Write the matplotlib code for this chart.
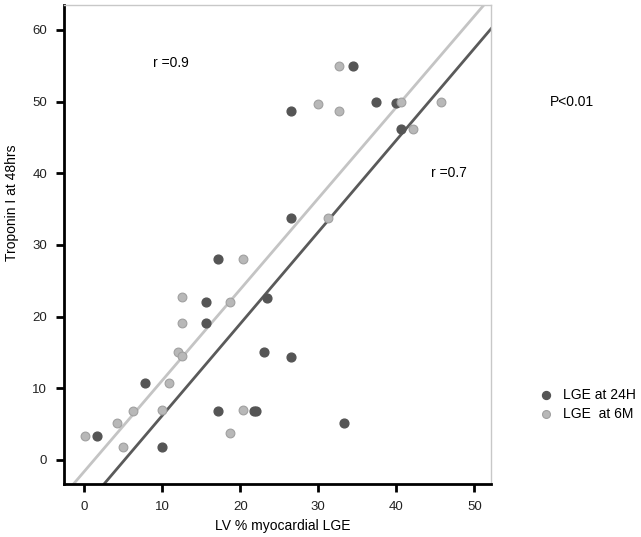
"""
Troponin I at 48hrs vs LV % myocardial LGE, two time points with fit lines.
"""
import matplotlib.pyplot as plt
import numpy as np

plt.rcParams['font.family'] = ['Liberation Sans', 'DejaVu Sans']

# LGE at 24H (dark points)
lge_24h_x = [1.6, 7.8, 10.0, 15.6, 15.6, 17.2, 17.2, 21.7, 22.0, 23.4, 23.0,
             26.5, 33.3, 26.5, 26.5, 34.4, 37.4, 39.9, 40.6]
lge_24h_y = [3.3, 10.7, 1.8, 22.0, 19.1, 6.9, 28.0, 6.9, 6.9, 22.6, 15.0,
             14.4, 5.2, 48.7, 33.7, 55.0, 50.0, 49.8, 46.1]

# LGE at 6M (light points)
lge_6m_x = [0.1, 5.0, 4.2, 6.3, 10.0, 10.9, 12.0, 12.5, 12.5, 12.5, 18.7,
            18.7, 20.3, 20.3, 29.9, 32.7, 32.7, 40.6, 45.7, 42.1, 31.2]
lge_6m_y = [3.3, 1.8, 5.2, 6.9, 7.0, 10.7, 15.1, 14.5, 19.1, 22.7, 22.1,
            3.8, 7.0, 28.0, 49.7, 55.0, 48.7, 50.0, 50.0, 46.1, 33.8]

# fitted lines: (slope, intercept)
fit_24h = (1.28, -6.6)
fit_6m = (1.27, -1.6)

x_ticks = [0, 10, 20, 30, 40, 50]
y_ticks = [0, 10, 20, 30, 40, 50, 60]

dark = '#555555'
light = '#b8b8b8'

fig = plt.figure(figsize=(6.41, 5.37), dpi=100)
ax = fig.add_axes([0.0998, 0.0987, 0.6657, 0.8925])
ax.set_xlim(-2.6, 52.1)
ax.set_ylim(-3.35, 63.5)

xx = np.array([-5, 60])
ax.plot(xx, fit_6m[0] * xx + fit_6m[1], color='#c4c4c4', lw=2, zorder=1)
ax.plot(xx, fit_24h[0] * xx + fit_24h[1], color='#5a5a5a', lw=2, zorder=1)

ax.scatter(lge_24h_x, lge_24h_y, s=40, color=dark, edgecolors=dark, zorder=3,
           label='LGE at 24H')
ax.scatter(lge_6m_x, lge_6m_y, s=40, color=light, edgecolors='#a0a0a0',
           linewidths=0.8, zorder=3, label='LGE  at 6M')

ax.text(8.8, 55.4, 'r =0.9', fontsize=10, va='center')
ax.text(44.4, 40, 'r =0.7', fontsize=10, va='center')
fig.text(550 / 641, 1 - 102 / 537, 'P<0.01', fontsize=10, va='center')

ax.set_xticks(x_ticks)
ax.set_yticks(y_ticks)
ax.tick_params(direction='out', length=6, width=2, labelsize=9.5,
               labelcolor='#222222', pad=6)
for s in ['left', 'bottom']:
    ax.spines[s].set_linewidth(2)
for s in ['top', 'right']:
    ax.spines[s].set_color('#c8c8c8')
    ax.spines[s].set_linewidth(1)

ax.set_xlabel('LV % myocardial LGE', fontsize=10)
ax.set_ylabel('Troponin I at 48hrs', fontsize=10)
ax.xaxis.set_label_coords(0.513, -0.0876)
ax.yaxis.set_label_coords(-0.122, 0.586)
ax.xaxis.label.set_va('center')
ax.yaxis.label.set_va('center')

fig.legend(loc='upper left', bbox_to_anchor=(527 / 641, 1 - 382 / 537),
           frameon=False, fontsize=10, handletextpad=0.2, labelspacing=0.4,
           markerscale=0.9, borderaxespad=0)

fig.savefig('out.png', dpi=100)
